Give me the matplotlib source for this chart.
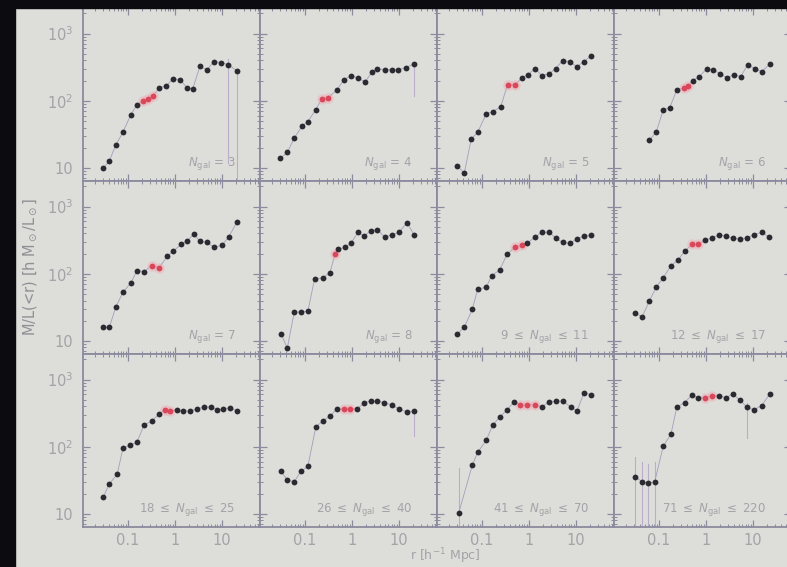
import numpy as np
import matplotlib
matplotlib.use("Agg")
import matplotlib.pyplot as plt
from matplotlib.patches import Rectangle
from matplotlib.ticker import FixedLocator, LogLocator, NullFormatter

# radii [h^-1 Mpc] and cumulative M/L for each richness bin
r_n3 = [0.030, 0.040, 0.055, 0.078, 0.115, 0.155, 0.21, 0.27, 0.34, 0.46, 0.65,
        0.91, 1.29, 1.82, 2.4, 3.4, 4.8, 6.8, 9.5, 13.5, 21]
ml_n3 = [10, 12.7, 22, 34, 62, 87, 100, 107, 118, 155, 166, 213, 206, 155, 151,
         324, 290, 383, 370, 345, 280]

r_n4 = [0.030, 0.042, 0.059, 0.087, 0.115, 0.17, 0.23, 0.31, 0.48, 0.68, 0.95,
        1.35, 1.9, 2.7, 3.5, 5.0, 7.1, 9.5, 14, 21]
ml_n4 = [14, 17, 28, 42, 49, 74, 108, 111, 146, 206, 235, 219, 190, 270, 300,
         290, 290, 290, 310, 355]

r_n5 = [0.030, 0.042, 0.059, 0.081, 0.123, 0.17, 0.25, 0.35, 0.50, 0.71, 0.95,
        1.35, 1.9, 2.7, 3.7, 5.2, 7.4, 10.5, 15, 21]
ml_n5 = [10.7, 8.4, 27, 34, 64, 69, 81, 173, 173, 220, 245, 300, 236, 253, 300,
         395, 383, 322, 383, 470]

r_n6 = [0.062, 0.087, 0.123, 0.17, 0.24, 0.34, 0.42, 0.52, 0.71, 1.05, 1.4, 2.0,
        2.8, 4.0, 5.5, 7.8, 11, 15.5, 23]
ml_n6 = [26, 34, 73, 79, 146, 155, 166, 198, 228, 300, 290, 253, 220, 245, 228,
         345, 300, 270, 355]

r_n7 = [0.030, 0.040, 0.055, 0.078, 0.115, 0.155, 0.22, 0.32, 0.46, 0.68, 0.91,
        1.35, 1.82, 2.5, 3.4, 4.8, 6.8, 10, 14, 21]
ml_n7 = [16, 16, 32, 53, 73, 111, 108, 132, 123, 181, 215, 274, 305, 390, 305,
         293, 247, 265, 352, 590]

r_n8 = [0.031, 0.042, 0.059, 0.081, 0.115, 0.16, 0.24, 0.34, 0.44, 0.50, 0.71,
        0.95, 1.35, 1.82, 2.5, 3.5, 5.0, 7.1, 10, 15, 21]
ml_n8 = [12.8, 7.8, 27, 27, 27.5, 84, 87, 104, 200, 230, 247, 284, 415, 363,
         435, 450, 352, 380, 415, 575, 380]

r_n9_11 = [0.030, 0.042, 0.062, 0.081, 0.123, 0.16, 0.24, 0.34, 0.50, 0.71,
           0.91, 1.35, 1.9, 2.7, 3.7, 5.2, 7.4, 10.5, 15, 21]
ml_n9_11 = [12.8, 16, 29.5, 59, 63, 93, 115, 194, 247, 265, 284, 352, 415, 415,
            340, 293, 284, 328, 363, 380]

r_n12_17 = [0.031, 0.044, 0.062, 0.087, 0.123, 0.18, 0.25, 0.35, 0.50, 0.68,
            0.95, 1.35, 1.9, 2.7, 3.7, 5.2, 7.4, 10.5, 15.5, 22]
ml_n12_17 = [26, 23, 39, 63, 87, 132, 158, 215, 274, 274, 316, 340, 380, 363,
             340, 328, 340, 380, 415, 352]

r_n18_25 = [0.030, 0.040, 0.059, 0.078, 0.11, 0.155, 0.22, 0.32, 0.46, 0.62,
            0.78, 1.1, 1.5, 2.1, 3.0, 4.2, 5.9, 7.8, 10.5, 15, 21]
ml_n18_25 = [18, 28, 39, 95, 105, 117, 210, 242, 307, 355, 340, 355, 340, 340,
             365, 392, 392, 355, 365, 380, 340]

r_n26_40 = [0.031, 0.042, 0.059, 0.081, 0.115, 0.17, 0.24, 0.34, 0.48, 0.68,
            0.91, 1.29, 1.82, 2.5, 3.5, 4.8, 7.1, 10, 15, 21]
ml_n26_40 = [43, 32, 30, 43, 51, 196, 242, 287, 366, 366, 366, 366, 450, 480,
             480, 450, 420, 366, 330, 340]

r_n41_70 = [0.032, 0.062, 0.081, 0.123, 0.17, 0.24, 0.34, 0.48, 0.65, 0.91,
            1.35, 1.9, 2.7, 3.7, 5.2, 7.8, 10.5, 15, 21]
ml_n41_70 = [10.4, 53, 83, 125, 210, 277, 353, 465, 420, 420, 420, 392, 465,
             480, 480, 392, 340, 635, 590]

r_n71_220 = [0.031, 0.044, 0.059, 0.081, 0.123, 0.18, 0.24, 0.35, 0.50, 0.68,
             0.95, 1.35, 1.9, 2.7, 3.7, 5.2, 7.4, 10.5, 15.5, 23]
ml_n71_220 = [36, 30, 29, 30, 102, 154, 392, 450, 590, 535, 535, 575, 575, 535,
              615, 500, 392, 353, 410, 615]

# points inside the virial radius (highlighted)
red_idx = [[6, 7, 8], [6, 7], [7, 8], [5, 6],
           [7, 8], [8], [8, 9], [8, 9],
           [9, 10], [9, 10], [8, 9, 10], [10, 11]]

labels = [r"$N_{\rm gal}$ = 3", r"$N_{\rm gal}$ = 4", r"$N_{\rm gal}$ = 5",
          r"$N_{\rm gal}$ = 6", r"$N_{\rm gal}$ = 7", r"$N_{\rm gal}$ = 8",
          r"9 $\leq$ $N_{\rm gal}$ $\leq$ 11", r"12 $\leq$ $N_{\rm gal}$ $\leq$ 17",
          r"18 $\leq$ $N_{\rm gal}$ $\leq$ 25", r"26 $\leq$ $N_{\rm gal}$ $\leq$ 40",
          r"41 $\leq$ $N_{\rm gal}$ $\leq$ 70", r"71 $\leq$ $N_{\rm gal}$ $\leq$ 220"]

# the few large error bars: (panel, point, lower, upper)
wide_err = [(0, 19, 12, 420), (0, 20, 5, 300), (1, 19, 118, 360),
            (9, 19, 145, 350), (10, 0, 5, 48),
            (11, 0, 5, 70), (11, 1, 5, 60), (11, 2, 5, 55), (11, 3, 5, 60),
            (11, 16, 135, 450)]

radii = [r_n3, r_n4, r_n5, r_n6, r_n7, r_n8, r_n9_11, r_n12_17,
         r_n18_25, r_n26_40, r_n41_70, r_n71_220]
ratios = [ml_n3, ml_n4, ml_n5, ml_n6, ml_n7, ml_n8, ml_n9_11, ml_n12_17,
          ml_n18_25, ml_n26_40, ml_n41_70, ml_n71_220]

W, H = 787, 567
bg = "#dddeda"
frame = "#8c8a9e"
txt = "#a3a3a8"

fig = plt.figure(figsize=(W / 100, H / 100), dpi=100, facecolor=bg)

# dark edges of the screen
fig.patches.append(Rectangle((0, 0), 15 / W, 1, transform=fig.transFigure,
                             color="#0c0c10", zorder=10))
fig.patches.append(Rectangle((0, 1 - 8 / H), 1, 8 / H, transform=fig.transFigure,
                             color="#0c0c10", zorder=10))

x0, y0 = 83, 8
pw, ph = 177, 173

for k in range(12):
    row, col = divmod(k, 4)
    left = (x0 + col * pw) / W
    bottom = 1 - (y0 + (row + 1) * ph) / H
    ax = fig.add_axes([left, bottom, pw / W, ph / H], facecolor=bg)
    ax.set_xscale("log")
    ax.set_yscale("log")
    ax.set_xlim(0.011, 65)
    ax.set_ylim(6.4, 2400)

    r = np.array(radii[k])
    ml = np.array(ratios[k])
    ax.plot(r, ml, color="#a49cbb", lw=0.6, zorder=2)

    for p, i, lo, hi in wide_err:
        if p == k:
            ax.plot([r[i], r[i]], [lo, hi], color="#bcaccc", lw=0.8, zorder=1)

    red = red_idx[k]
    black = [i for i in range(len(r)) if i not in red]
    ax.plot(r[red], ml[red], "o", ms=7.5, color="#f2a0ab", alpha=0.4,
            mec="none", zorder=3)
    ax.plot(r[red], ml[red], "o", ms=4.2, color="#d9485a", mec="none", zorder=4)
    ax.plot(r[black], ml[black], "o", ms=4.2, color="#2a2a30", mec="none", zorder=4)

    ax.text(0.86, 0.10, labels[k], transform=ax.transAxes, ha="right",
            va="center", fontsize=8.5, color=txt)

    for s in ax.spines.values():
        s.set_color(frame)
        s.set_linewidth(1.3)

    ax.xaxis.set_major_locator(FixedLocator([0.1, 1, 10]))
    ax.xaxis.set_minor_locator(LogLocator(base=10, subs=np.arange(2, 10)))
    ax.yaxis.set_major_locator(FixedLocator([10, 100, 1000]))
    ax.yaxis.set_minor_locator(LogLocator(base=10, subs=np.arange(2, 10)))
    ax.xaxis.set_minor_formatter(NullFormatter())
    ax.yaxis.set_minor_formatter(NullFormatter())
    ax.tick_params(which="both", direction="in", top=True, right=True,
                   color=frame, labelcolor=txt, labelsize=10.5)
    ax.tick_params(which="major", length=5, width=0.9)
    ax.tick_params(which="minor", length=2.5, width=0.7)

    if col == 0:
        ax.set_yticklabels(["10", r"$10^2$", r"$10^3$"])
        ax.tick_params(axis="y", pad=7)
    else:
        ax.set_yticklabels([])
    if row == 2:
        ax.set_xticklabels(["0.1", "1", "10"])
        ax.tick_params(axis="x", pad=4)
    else:
        ax.set_xticklabels([])

fig.text(30 / W, 0.53, r"M/L(<r) [h M$_\odot$/L$_\odot$]", rotation=90,
         ha="center", va="center", fontsize=10.5, color="#8f8f96")
fig.text(445 / W, 1 / H, r"r [h$^{-1}$ Mpc]", ha="center", va="bottom",
         fontsize=9, color=txt)

fig.savefig("out.png", dpi=100, facecolor=bg)
